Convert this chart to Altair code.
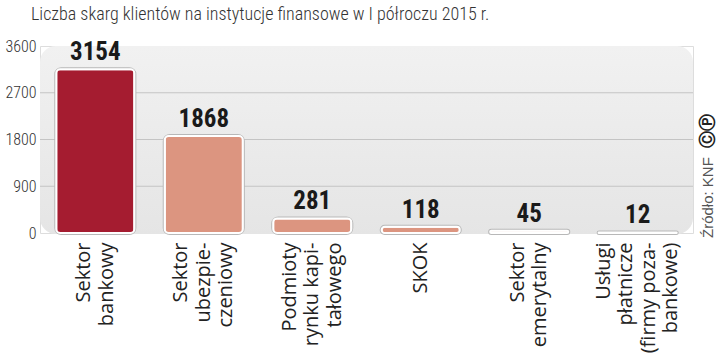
import altair as alt
import pandas as pd

title_text = "Liczba skarg klientów na instytucje finansowe w I półroczu 2015 r."
categories = ["Sektor|bankowy", "Sektor|ubezpie-|czeniowy", "Podmioty|rynku kapi-|tałowego",
              "SKOK", "Sektor|emerytalny", "Usługi|płatnicze|(firmy poza-|bankowe)"]
values = [3154, 1868, 281, 118, 45, 12]
highlight = [True, False, False, False, False, False]
y_ticks = [0, 900, 1800, 2700, 3600]
grid_vals = [900, 1800, 2700]
source_text = "Źródło: KNF"

W, H = 653, 187
LH = 22.5

df = pd.DataFrame({"cat": categories, "val": values, "hl": highlight})
order = categories

yscale = alt.Scale(domain=[0, 3600], nice=False)
yaxis = alt.Axis(title=None, values=y_ticks, grid=False, domain=False, ticks=False, format="d",
                 labelFontSize=16, labelFont="Roboto Condensed", labelFontWeight=300, labelColor="#333",
                 labelPadding=4)
xenc = alt.X("cat:N", sort=order,
             scale=alt.Scale(paddingInner=0.28, paddingOuter=0.15),
             axis=alt.Axis(title=None, domain=False, ticks=False, labelAngle=-90,
                           labelAlign="right", labelBaseline="middle",
                           labelPadding=9, labelFontSize=20, labelFont="Open Sans",
                           labelColor="#222", labelLineHeight=LH,
                           labelOffset=alt.ExprRef(f"-(length(split(datum.label, '|')) - 1) * {LH / 2}"),
                           labelExpr="split(datum.label, '|')"))
yenc = alt.Y("val:Q", scale=yscale, axis=yaxis)

bg = alt.Chart(pd.DataFrame({"a": [0]})).mark_rect(
    cornerRadius=16,
    fill={"gradient": "linear", "x1": 0, "y1": 0, "x2": 0, "y2": 1,
          "stops": [{"offset": 0, "color": "#f1f1f1"}, {"offset": 1, "color": "#e5e5e5"}]}
).encode(x=alt.value(0), x2=alt.value(W), y=alt.value(0), y2=alt.value(H + 1))

grid = alt.Chart(pd.DataFrame({"g": grid_vals})).mark_rule(color="#c4c4c4", strokeWidth=1.2).encode(
    y=alt.Y("g:Q", scale=yscale, axis=yaxis),
    x=alt.value(0), x2=alt.value(W))

colscale = alt.Scale(domain=[True, False], range=["#a51c30", "#dc9580"])
base = alt.Chart(df)
bar_shadow = base.mark_bar(cornerRadius=5, stroke="#b8b8b8", strokeWidth=4).encode(
    x=xenc, y=yenc, color=alt.Color("hl:N", scale=colscale, legend=None))
bars = base.mark_bar(cornerRadius=4, stroke="#ffffff", strokeWidth=2).encode(
    x=alt.X("cat:N", sort=order), y="val:Q",
    color=alt.Color("hl:N", scale=colscale, legend=None))
labels = base.mark_text(font="Roboto Condensed", fontWeight="bold", fontSize=25,
                        color="#1a1a1a", baseline="alphabetic", dy=-9).encode(
    x=alt.X("cat:N", sort=order), y="val:Q", text="val:Q")

title = alt.Chart(pd.DataFrame({"t": [title_text]})).mark_text(
    font="Roboto Condensed", fontWeight=300, fontSize=18, color="#333", align="left", baseline="middle"
).encode(text="t:N", x=alt.value(-9), y=alt.value(-31))

src = alt.Chart(pd.DataFrame({"t": [source_text]})).mark_text(
    font="Liberation Sans", fontSize=15, color="#555", align="left", baseline="middle", angle=270
).encode(text="t:N", x=alt.value(W + 15), y=alt.value(H + 5))

logo = alt.Chart(pd.DataFrame({"t": ["ⒸⓅ"]})).mark_text(
    font="DejaVu Sans", fontSize=17, fontWeight="bold", color="#222", align="left", baseline="middle", angle=270
).encode(text="t:N", x=alt.value(W + 15), y=alt.value(102))

chart = alt.layer(bg, grid, bar_shadow, bars, labels, title, src, logo).properties(
    width=W, height=H,
    autosize=alt.AutoSizeParams(type="none"),
    padding={"left": 40, "top": 46, "right": 27, "bottom": 123},
).configure_view(stroke=None).configure(background="#ffffff")

chart.save("out.html", embed_options={"renderer": "svg", "actions": False})
